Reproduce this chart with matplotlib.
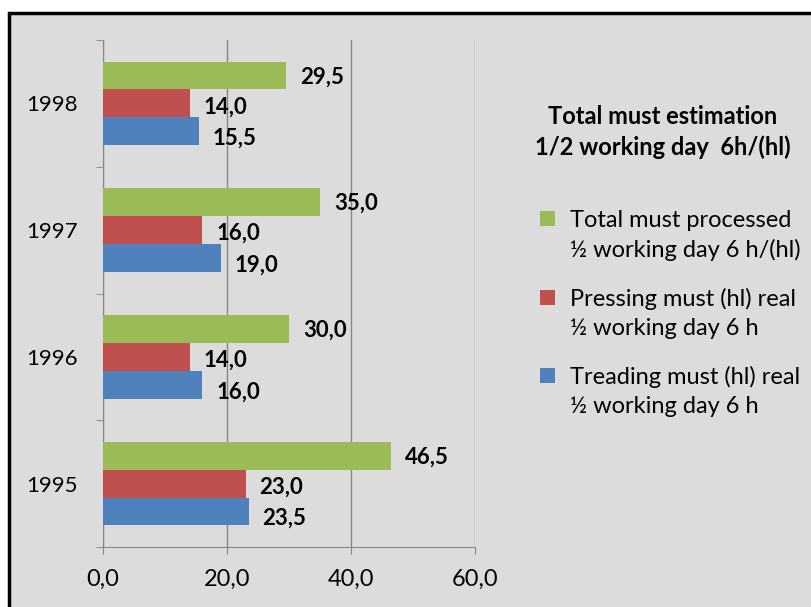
import matplotlib.pyplot as plt
from matplotlib.patches import Rectangle
from matplotlib.ticker import FixedLocator

plt.rcParams['font.family'] = ['Lato', 'DejaVu Sans']

years = ['1995', '1996', '1997', '1998']
treading = [23.5, 16.0, 19.0, 15.5]
pressing = [23.0, 14.0, 16.0, 14.0]
total = [46.5, 30.0, 35.0, 29.5]
xticks = [0, 20, 40, 60]
xtick_labels = ['0,0', '20,0', '40,0', '60,0']

legend_title = 'Total must estimation\n1/2 working day  6h/(hl)'
series_names = [
    'Total must processed\n½ working day 6 h/(hl)',
    'Pressing must (hl) real\n½ working day 6 h',
    'Treading must (hl) real\n½ working day 6 h',
]
colors = ['#9BBB59', '#C0504D', '#4F81BD']

W, H = 811, 607
fig = plt.figure(figsize=(W / 100, H / 100), dpi=100)
fig.patch.set_facecolor('white')
bg = Rectangle((9 / W, -0.05), 1.1, 1 - 12.5 / H + 0.05, transform=fig.transFigure,
               facecolor='#dcdcdc', edgecolor='black', linewidth=2.5, zorder=-10)
fig.patches.append(bg)

ax = fig.add_axes([103 / W, 1 - 547 / H, 372 / W, 507 / H])
ax.set_facecolor('none')

h = 0.22
pos = range(len(years))
b_blue = ax.barh([p - h for p in pos], treading, height=h, color=colors[2], zorder=3)
b_red = ax.barh(list(pos), pressing, height=h, color=colors[1], zorder=3)
b_green = ax.barh([p + h for p in pos], total, height=h, color=colors[0], zorder=3)

for bars, vals, dy in [(b_green, total, -1), (b_red, pressing, -2.5), (b_blue, treading, -5)]:
    for bar, v in zip(bars, vals):
        ax.annotate(('%.1f' % v).replace('.', ','),
                    (bar.get_width(), bar.get_y() + bar.get_height() / 2),
                    xytext=(10, dy), textcoords='offset points',
                    ha='left', va='center', fontsize=16, fontweight='bold', color='black')

ax.set_xlim(0, 60)
ax.set_ylim(-0.5, 3.5)
ax.set_xticks(xticks)
ax.set_xticklabels(xtick_labels, fontsize=17)
ax.set_yticks(list(pos))
ax.set_yticklabels(years, fontsize=16)
ax.yaxis.set_minor_locator(FixedLocator([-0.5, 0.5, 1.5, 2.5, 3.5]))
ax.tick_params(axis='y', which='major', length=0, pad=18)
ax.tick_params(axis='y', which='minor', length=5, color='#868686')
ax.tick_params(axis='x', length=5, color='#868686', pad=11)
ax.grid(axis='x', color='#868686', linewidth=1)
for s in ['top', 'right']:
    ax.spines[s].set_visible(False)
for s in ['left', 'bottom']:
    ax.spines[s].set_color('#868686')

# legend drawn by hand: square beside the first line of each two-line label
fig.text(663 / W, 1 - 155 / H, legend_title, ha='center', va='baseline',
         fontsize=17, fontweight='bold', linespacing=1.40, multialignment='center')
for i, (name, c) in enumerate(zip(series_names, colors)):
    base = 257 + 78 * i
    fig.patches.append(Rectangle((540 / W, 1 - (base - 30.5) / H), 15 / W, 15 / H,
                                 transform=fig.transFigure, facecolor=c, edgecolor='none'))
    fig.text(570 / W, 1 - base / H, name, ha='left', va='baseline',
             fontsize=17, linespacing=1.46)

fig.savefig('out.png', dpi=100)
